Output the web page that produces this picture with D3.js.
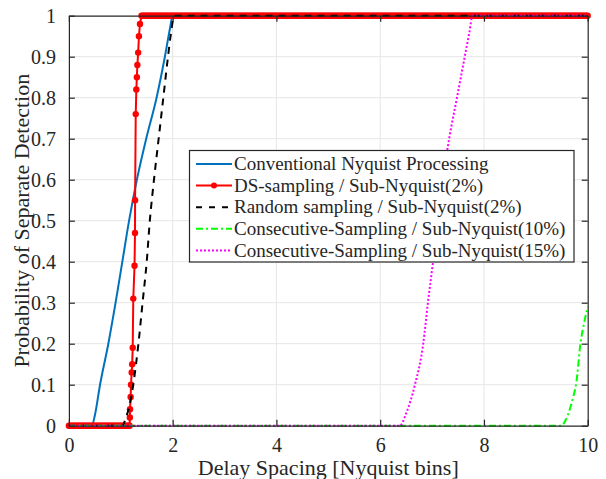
<!DOCTYPE html>
<html>
<head>
<meta charset="utf-8">
<script src="https://cdn.jsdelivr.net/npm/d3@7"></script>
<style>
  html, body { margin: 0; padding: 0; background: #fff; }
  svg { display: block; }
  text { font-family: "Liberation Serif", "Times New Roman", serif; fill: #262626; }
</style>
</head>
<body>
<svg id="chart" width="606" height="479"></svg>
<script>
// Probability of separate detection vs. delay spacing (Nyquist bins)
const xTicks = [0, 2, 4, 6, 8, 10];
const yTicks = [0, 0.1, 0.2, 0.3, 0.4, 0.5, 0.6, 0.7, 0.8, 0.9, 1];

const seriesNames = [
  "Conventional Nyquist Processing",
  "DS-sampling / Sub-Nyquist(2%)",
  "Random sampling / Sub-Nyquist(2%)",
  "Consecutive-Sampling / Sub-Nyquist(10%)",
  "Consecutive-Sampling / Sub-Nyquist(15%)"
];

// [delay spacing, probability]
const conventional = [
  [0, 0], [0.44, 0], [0.5, 0.025], [0.6, 0.1], [0.76, 0.2], [0.9, 0.3],
  [1.03, 0.4], [1.16, 0.5], [1.31, 0.6], [1.49, 0.7], [1.69, 0.8],
  [1.85, 0.9], [1.95, 0.97], [2.0, 1], [10, 1]
];

// DS-sampling: simulated on a fine delay grid, every grid point is marked
const dsGridStep = 0.025;
const dsOnset = 1.17;
const dsSaturation = 1.40;
const dsRise = [
  [1.17, 0], [1.175, 0.02], [1.178, 0.04], [1.19, 0.07], [1.197, 0.10],
  [1.21, 0.13], [1.22, 0.15], [1.23, 0.19], [1.241, 0.31], [1.265, 0.39],
  [1.274, 0.47], [1.276, 0.55], [1.288, 0.76], [1.30, 0.82], [1.31, 0.85],
  [1.32, 0.88], [1.335, 0.91], [1.35, 0.95], [1.37, 0.98], [1.40, 1]
];

const randomSampling = [
  [0, 0], [1.03, 0], [1.1, 0.02], [1.17, 0.05], [1.24, 0.1], [1.34, 0.2],
  [1.42, 0.3], [1.5, 0.4], [1.56, 0.5], [1.64, 0.6], [1.73, 0.7],
  [1.82, 0.8], [1.91, 0.9], [1.97, 0.96], [2.03, 1], [10, 1]
];

const consecutive10 = [
  [0, 0], [9.49, 0], [9.58, 0.015], [9.65, 0.038], [9.72, 0.07],
  [9.78, 0.104], [9.86, 0.2], [9.93, 0.25], [10, 0.29]
];

const consecutive15 = [
  [0, 0], [6.38, 0], [6.5, 0.03], [6.67, 0.1], [6.83, 0.2], [6.92, 0.3],
  [7.02, 0.4], [7.12, 0.5], [7.21, 0.6], [7.33, 0.7], [7.48, 0.8],
  [7.63, 0.9], [7.72, 0.96], [7.78, 1], [10, 1]
];

// build the full DS series on its grid: flat floor, measured rise, flat ceiling
const dsFloor = d3.range(0, dsOnset - 1e-9, dsGridStep).map(x => [x, 0]);
const dsCeil = d3.range(dsSaturation + dsGridStep, 10 + 1e-9, dsGridStep).map(x => [x, 1]);
const dsSampling = dsFloor.concat(dsRise, dsCeil);

const svg = d3.select("#chart");
const margin = { left: 68.9, right: 606 - 587.7, top: 15.7, bottom: 479 - 425.7 };
const W = 606 - margin.left - margin.right;
const H = 479 - margin.top - margin.bottom;

const x = d3.scaleLinear().domain([0, 10]).range([margin.left, margin.left + W]);
const y = d3.scaleLinear().domain([0, 1]).range([margin.top + H, margin.top]);

const axisColor = "#262626";
const gridColor = "#e6e6e6";

// grid
const grid = svg.append("g");
grid.selectAll("line.gx").data(xTicks.slice(1, -1)).join("line")
  .attr("x1", d => x(d)).attr("x2", d => x(d))
  .attr("y1", y(0)).attr("y2", y(1))
  .attr("stroke", gridColor).attr("stroke-width", 1);
grid.selectAll("line.gy").data(yTicks.slice(1, -1)).join("line")
  .attr("x1", x(0)).attr("x2", x(10))
  .attr("y1", d => y(d)).attr("y2", d => y(d))
  .attr("stroke", gridColor).attr("stroke-width", 1);

// curves
const line = d3.line().x(d => x(d[0])).y(d => y(d[1])).curve(d3.curveMonotoneX);
const lineLin = d3.line().x(d => x(d[0])).y(d => y(d[1]));
const plot = svg.append("g");

plot.append("path").datum(conventional).attr("d", line)
  .attr("fill", "none").attr("stroke", "#0072BD").attr("stroke-width", 2);

plot.append("path").datum(dsSampling).attr("d", lineLin)
  .attr("fill", "none").attr("stroke", "#FF0000").attr("stroke-width", 2);
plot.selectAll("circle.ds").data(dsSampling).join("circle")
  .attr("cx", d => x(d[0])).attr("cy", d => y(d[1])).attr("r", 3.2)
  .attr("fill", "#FF0000");

plot.append("path").datum(randomSampling).attr("d", line)
  .attr("fill", "none").attr("stroke", "#000").attr("stroke-width", 2)
  .attr("stroke-dasharray", "7,6");

plot.append("path").datum(consecutive10).attr("d", line)
  .attr("fill", "none").attr("stroke", "#00FF00").attr("stroke-width", 2)
  .attr("stroke-dasharray", "7,3,2,3");

plot.append("path").datum(consecutive15).attr("d", line)
  .attr("fill", "none").attr("stroke", "#FF00FF").attr("stroke-width", 2)
  .attr("stroke-dasharray", "2,2");

// axes box with inward ticks
const tickLen = 6;
const axes = svg.append("g");
const axL = d3.axisLeft(y).tickValues(yTicks).tickSizeInner(-tickLen).tickSizeOuter(0)
  .tickPadding(tickLen + 7).tickFormat(d3.format("~g"));
const axR = d3.axisRight(y).tickValues(yTicks).tickSizeInner(-tickLen).tickSizeOuter(0).tickFormat("");
const axB = d3.axisBottom(x).tickValues(xTicks).tickSizeInner(-tickLen).tickSizeOuter(0)
  .tickPadding(tickLen + 6).tickFormat(d3.format("d"));
const axT = d3.axisTop(x).tickValues(xTicks).tickSizeInner(-tickLen).tickSizeOuter(0).tickFormat("");

function styleAxis(g) {
  g.select(".domain").attr("stroke", axisColor).attr("stroke-width", 1.2);
  g.selectAll(".tick line").attr("stroke", axisColor).attr("stroke-width", 1.2);
  g.selectAll(".tick text").attr("fill", axisColor)
    .style("font-family", "'Liberation Serif', 'Times New Roman', serif")
    .style("font-size", "20px");
}
axes.append("g").attr("transform", `translate(${x(0)},0)`).call(axL).call(styleAxis);
axes.append("g").attr("transform", `translate(${x(10)},0)`).call(axR).call(styleAxis);
axes.append("g").attr("transform", `translate(0,${y(0)})`).call(axB).call(styleAxis);
axes.append("g").attr("transform", `translate(0,${y(1)})`).call(axT).call(styleAxis);

// axis titles
svg.append("text")
  .attr("x", x(5)).attr("y", 475)
  .attr("text-anchor", "middle")
  .style("font-size", "22px")
  .text("Delay Spacing [Nyquist bins]");
svg.append("text")
  .attr("transform", `translate(29,${y(0.5)}) rotate(-90)`)
  .attr("text-anchor", "middle")
  .style("font-size", "22px")
  .text("Probability of Separate Detection");

// legend
const styles = [
  { color: "#0072BD", dash: null, marker: false },
  { color: "#FF0000", dash: null, marker: true },
  { color: "#000", dash: "6,7", marker: false },
  { color: "#00FF00", dash: "7,3,2,3", marker: false },
  { color: "#FF00FF", dash: "2,2", marker: false }
];
const lg = svg.append("g");
lg.append("rect")
  .attr("x", 189.5).attr("y", 150.5).attr("width", 384.5).attr("height", 111.5)
  .attr("fill", "#fff").attr("stroke", axisColor).attr("stroke-width", 1.2);
const rows = lg.selectAll("g.row").data(seriesNames).join("g")
  .attr("transform", (d, i) => `translate(0,${164 + i * 21.6})`);
rows.append("line")
  .attr("x1", 196).attr("x2", 232).attr("y1", 0).attr("y2", 0)
  .attr("stroke", (d, i) => styles[i].color).attr("stroke-width", 2)
  .attr("stroke-dasharray", (d, i) => styles[i].dash);
rows.filter((d, i) => styles[i].marker).append("circle")
  .attr("cx", 214).attr("cy", 0).attr("r", 3).attr("fill", "#FF0000");
rows.append("text")
  .attr("x", 234).attr("y", 0).attr("dy", "0.33em")
  .style("font-size", "19px")
  .attr("fill", "#000")
  .text(d => d);
</script>
</body>
</html>
